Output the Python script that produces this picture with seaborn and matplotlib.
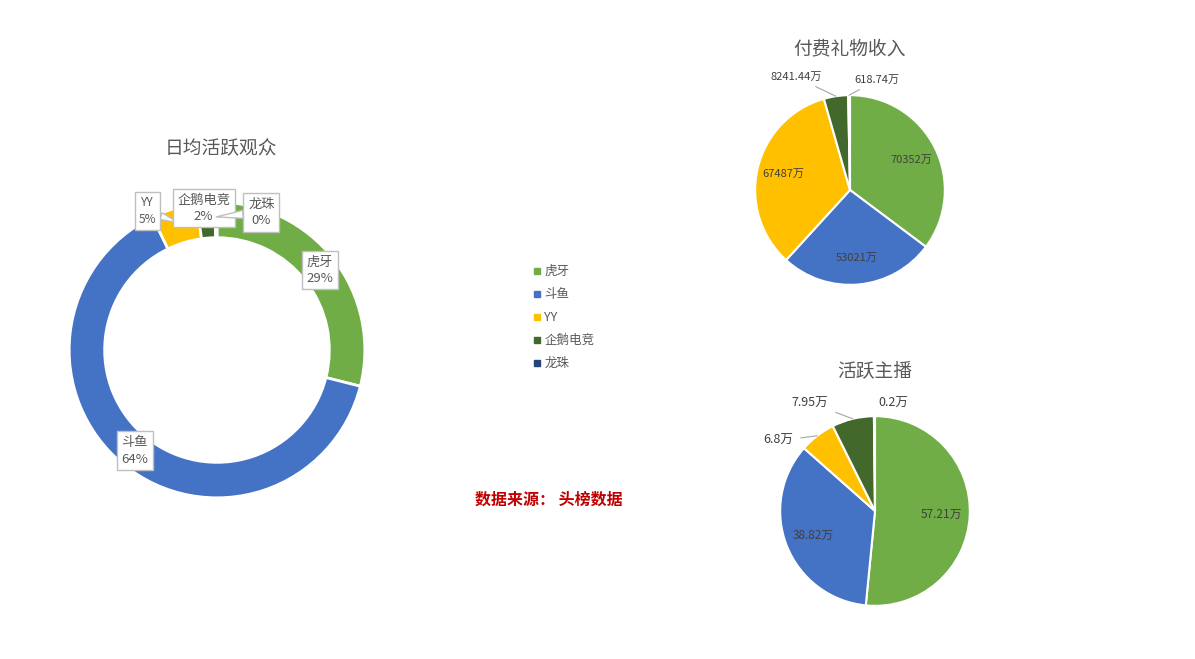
import numpy as np
import matplotlib
matplotlib.use("Agg")
import matplotlib.pyplot as plt
import seaborn as sns
from matplotlib.lines import Line2D

sns.set_theme(style="white")
plt.rcParams['font.family'] = ['Noto Sans CJK SC', 'DejaVu Sans']

# data
platforms = ['虎牙', '斗鱼', 'YY', '企鹅电竞', '龙珠']
audience_pct = [29, 64, 5, 2, 0.2]
gift_income = [70352, 53021, 67487, 8241.44, 618.74]
gift_labels = ['70352万', '53021万', '67487万', '8241.44万', '618.74万']
anchors = [57.21, 38.82, 6.8, 7.95, 0.2]
anchor_labels = ['57.21万', '38.82万', '6.8万', '7.95万', '0.2万']
colors = ['#70AD47', '#4472C4', '#FFC000', '#43682B', '#264478']

W, H = 1195, 659
fig = plt.figure(figsize=(W / 100, H / 100), dpi=100)
TXT = '#595959'


def px_axes(cx, cy, size):
    return fig.add_axes([(cx - size / 2) / W, (H - cy - size / 2) / H, size / W, size / H])


def mid_point(w, r):
    ang = np.deg2rad((w.theta1 + w.theta2) / 2)
    return r * np.cos(ang), r * np.sin(ang)


# ---- donut: 日均活跃观众
ax1 = px_axes(217, 350, 340)
wedges1, _ = ax1.pie(audience_pct, colors=colors, startangle=90, counterclock=False,
                     wedgeprops=dict(width=0.24, edgecolor='white', linewidth=2))
ax1.set_xlim(-1.15, 1.15)
ax1.set_ylim(-1.15, 1.15)
ax1.set_aspect('equal')
ax1.axis('off')

total1 = sum(audience_pct)
box = dict(boxstyle='square,pad=0.35', fc='white', ec='#BFBFBF', lw=1)
lbl = [f'{n}\n{v / total1 * 100:.0f}%' for n, v in zip(platforms, audience_pct)]
for i in (0, 1):
    x, y = mid_point(wedges1[i], 0.88)
    ax1.text(x, y, lbl[i], ha='center', va='center', fontsize=9.5, color=TXT,
             linespacing=1.35, bbox=box)
callouts = {2: (-0.47, 0.94), 3: (-0.09, 0.96), 4: (0.30, 0.93)}
for i, (tx, ty) in callouts.items():
    x, y = mid_point(wedges1[i], 0.9)
    ax1.annotate(lbl[i], xy=(x, y), xytext=(tx, ty), ha='center', va='center',
                 fontsize=9.5 if i != 2 else 8.5, color=TXT, linespacing=1.35, bbox=box,
                 arrowprops=dict(arrowstyle='wedge,tail_width=0.6', fc='white',
                                 ec='#BFBFBF', lw=1, shrinkA=0, shrinkB=0))
fig.text(221 / W, 1 - 149 / H, '日均活跃观众', ha='center', va='center', fontsize=13.5, color=TXT)

# ---- pie: 付费礼物收入
ax2 = px_axes(850, 190, 220)
wedges2, _ = ax2.pie(gift_income, colors=colors, startangle=90, counterclock=False,
                     wedgeprops=dict(edgecolor='white', linewidth=1.5))
ax2.set_xlim(-1.16, 1.16)
ax2.set_ylim(-1.16, 1.16)
ax2.set_aspect('equal')
ax2.axis('off')
for i in range(3):
    x, y = mid_point(wedges2[i], 0.72)
    ax2.text(x, y, gift_labels[i], ha='center', va='center', fontsize=8, color='#404040')
outer2 = {3: ((-0.30, 1.19), 'right'), 4: ((0.05, 1.16), 'left')}
for i, ((tx, ty), ha) in outer2.items():
    x, y = mid_point(wedges2[i], 1.0)
    ax2.annotate(gift_labels[i], xy=(x, y), xytext=(tx, ty), ha=ha, va='center',
                 fontsize=8, color='#404040', annotation_clip=False,
                 arrowprops=dict(arrowstyle='-', color='#A6A6A6', lw=0.8,
                                 shrinkA=2, shrinkB=0))
fig.text(850 / W, 1 - 49 / H, '付费礼物收入', ha='center', va='center', fontsize=13.5, color=TXT)

# ---- pie: 活跃主播
ax3 = px_axes(875, 511, 220)
wedges3, _ = ax3.pie(anchors, colors=colors, startangle=90, counterclock=False,
                     wedgeprops=dict(edgecolor='white', linewidth=1.5))
ax3.set_xlim(-1.16, 1.16)
ax3.set_ylim(-1.16, 1.16)
ax3.set_aspect('equal')
ax3.axis('off')
for i in range(2):
    x, y = mid_point(wedges3[i], 0.70)
    ax3.text(x, y, anchor_labels[i], ha='center', va='center', fontsize=8.5, color='#404040')
outer3 = {2: ((-0.86, 0.74), 'right'), 3: ((-0.49, 1.14), 'right'), 4: ((0.04, 1.14), 'left')}
for i, ((tx, ty), ha) in outer3.items():
    x, y = mid_point(wedges3[i], 1.0)
    ax3.annotate(anchor_labels[i], xy=(x, y), xytext=(tx, ty), ha=ha, va='center',
                 fontsize=9, color='#404040', annotation_clip=False,
                 arrowprops=dict(arrowstyle='-', color='#A6A6A6', lw=0.8,
                                 shrinkA=3, shrinkB=0) if i != 4 else None)
fig.text(875 / W, 1 - 371 / H, '活跃主播', ha='center', va='center', fontsize=13.5, color=TXT)

# ---- legend
handles = [Line2D([], [], marker='s', linestyle='none', markersize=4.5,
                  markerfacecolor=c, markeredgecolor=c) for c in colors]
fig.legend(handles, platforms, loc='upper left', bbox_to_anchor=(528 / W, 1 - 260 / H),
           frameon=False, fontsize=9, labelcolor=TXT, handlelength=0.6,
           handletextpad=0.3, labelspacing=0.8, borderaxespad=0)

fig.text(549 / W, 1 - 500 / H, '数据来源： 头榜数据', ha='center', va='center',
         fontsize=11.5, fontweight='bold', color='#C00000')

fig.savefig('out.png', dpi=100)
